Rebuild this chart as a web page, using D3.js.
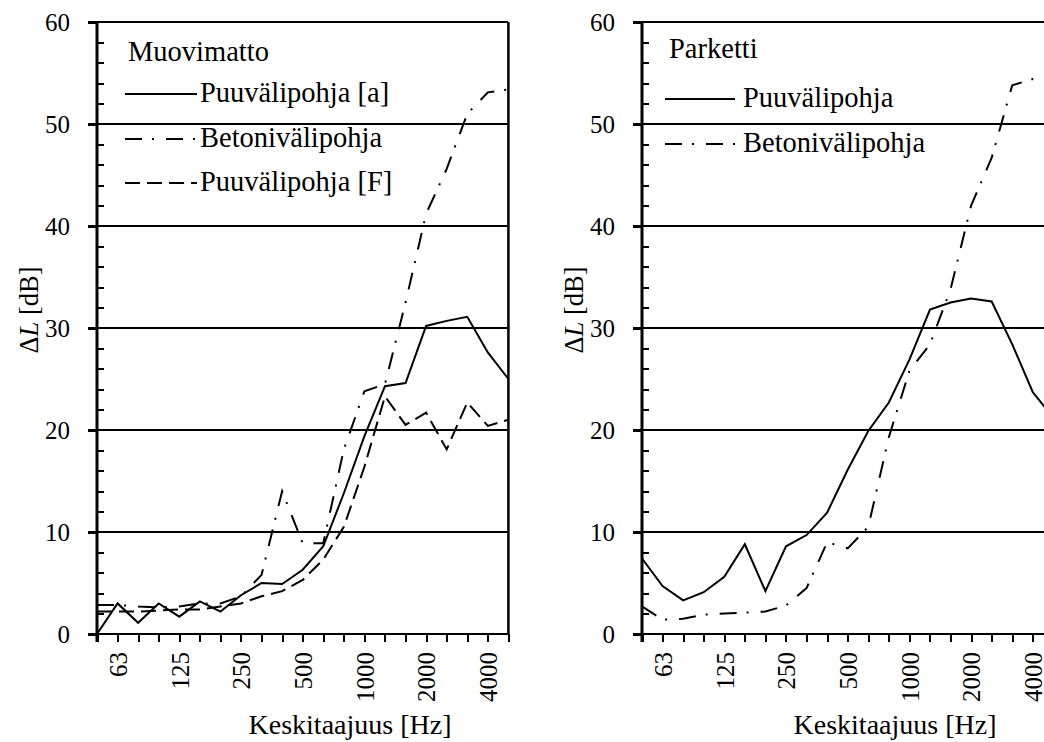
<!DOCTYPE html>
<meta charset="utf-8">
<style>

body {
  margin: 0;
  background: #fff;
}

svg, svg text {
  font-family: "Liberation Serif", "Times New Roman", serif;
}

.axis path, .axis line {
  stroke: #000;
  stroke-width: 2;
  shape-rendering: crispEdges;
}

.axis text {
  fill: #000;
  font-size: 25px;
}

.grid line {
  stroke: #000;
  stroke-width: 2;
  shape-rendering: crispEdges;
}

.series {
  fill: none;
  stroke: #000;
  stroke-width: 2;
}

</style>
<body>
<script src="https://cdn.jsdelivr.net/npm/d3@7"></script>
<script>

// third-octave band centre frequencies, Hz
const bands = [50, 63, 80, 100, 125, 160, 200, 250, 315, 400, 500, 630, 800, 1000, 1250, 1600, 2000, 2500, 3150, 4000, 5000];
const tickLabels = [63, 125, 250, 500, 1000, 2000, 4000];
const yTicks = [0, 10, 20, 30, 40, 50, 60];

// Muovimatto, ΔL in dB
const muoviPuuA    = [0.0, 3.0, 1.1, 3.0, 1.7, 3.2, 2.2, 3.8, 5.0, 4.9, 6.3, 8.6, 13.8, 19.4, 24.3, 24.6, 30.2, 30.7, 31.1, 27.6, 25.0];
const muoviBetoni  = [2.85, 2.85, 2.7, 2.6, 2.7, 3.0, 3.0, 3.7, 5.8, 14.0, 8.9, 8.9, 18.1, 23.8, 24.5, 32.5, 41.2, 45.6, 51.0, 53.1, 53.4];
const muoviPuuF    = [2.2, 2.2, 2.2, 2.3, 2.4, 2.4, 2.7, 3.0, 3.7, 4.2, 5.3, 7.3, 10.5, 16.4, 23.3, 20.5, 21.7, 18.1, 22.7, 20.4, 21.0];

// Parketti, ΔL in dB
const parkettiPuu    = [7.4, 4.7, 3.3, 4.1, 5.6, 8.8, 4.2, 8.6, 9.7, 11.9, 16.1, 19.9, 22.7, 26.9, 31.8, 32.5, 32.9, 32.6, 28.4, 23.7, 21.2];
const parkettiBetoni = [2.7, 1.4, 1.5, 1.9, 2.0, 2.1, 2.2, 2.8, 4.5, 9.0, 8.4, 10.5, 19.3, 25.8, 28.4, 33.8, 42.0, 46.7, 53.8, 54.4, 54.0];

const width = 1044, height = 742;
const plotW = 411.4, plotTop = 22, plotBottom = 634;

const dashes = {solid: null, dashdot: "17,10,2,12", dashed: "15,7"};

const svg = d3.select("body").append("svg")
    .attr("width", width)
    .attr("height", height)
    .attr("font-family", "Liberation Serif, Times New Roman, serif");

function panel(x0, title, series, lg) {
  const g = svg.append("g");

  const x = d3.scalePoint()
      .domain(bands)
      .range([x0, x0 + plotW]);

  const y = d3.scaleLinear()
      .domain([0, 60])
      .range([plotBottom, plotTop]);

  // horizontal grid lines (also the outward major ticks)
  g.append("g")
      .attr("class", "grid")
    .selectAll("line")
    .data(yTicks)
    .join("line")
      .attr("x1", x0 - 9)
      .attr("x2", x0 + plotW)
      .attr("y1", d => y(d))
      .attr("y2", d => y(d));

  // right border
  g.append("line")
      .attr("x1", x0 + plotW).attr("x2", x0 + plotW)
      .attr("y1", plotTop).attr("y2", plotBottom)
      .attr("stroke", "#000")
      .attr("stroke-width", 2.5);

  g.append("g")
      .attr("class", "axis")
      .attr("transform", `translate(${x0},0)`)
      .call(d3.axisLeft(y).tickValues(yTicks).tickSize(9).tickSizeOuter(0).tickPadding(18))
      .attr("font-family", null)
      .call(a => a.select(".domain").remove());

  // minor ticks every 2 dB, pointing inward
  g.append("g")
      .attr("class", "axis")
      .attr("transform", `translate(${x0},0)`)
      .call(d3.axisRight(y).tickValues(d3.range(2, 60, 2).filter(d => d % 10)).tickSize(7).tickFormat(""))
      .call(a => a.select(".domain").remove());

  g.append("g")
      .attr("class", "axis")
      .attr("transform", `translate(0,${plotBottom})`)
      .call(d3.axisBottom(x).tickSize(8).tickSizeOuter(0)
          .tickFormat(d => tickLabels.includes(d) ? d : ""))
      .attr("font-family", null)
      .call(a => a.select(".domain").remove())
      .selectAll("text")
      .attr("transform", "rotate(-90)")
      .attr("text-anchor", "end")
      .attr("x", -18)
      .attr("y", 0)
      .attr("dy", "0.35em");

  g.append("line")
      .attr("x1", x0).attr("x2", x0)
      .attr("y1", plotTop).attr("y2", plotBottom + 8)
      .attr("stroke", "#000")
      .attr("stroke-width", 3);

  const line = d3.line()
      .x((d, i) => x(bands[i]))
      .y(d => y(d));

  g.selectAll(".series")
    .data(series)
    .join("path")
      .attr("class", "series")
      .attr("stroke-dasharray", d => dashes[d.style])
      .attr("d", d => line(d.values));

  // axis titles
  const yl = g.append("text")
      .attr("transform", `translate(${x0 - 59},310) rotate(-90)`)
      .attr("text-anchor", "middle")
      .attr("font-size", 26.5);
  yl.append("tspan").text("Δ");
  yl.append("tspan").attr("font-style", "italic").text("L");
  yl.append("tspan").text(" [dB]");

  g.append("text")
      .attr("x", x0 + 253)
      .attr("y", 734)
      .attr("text-anchor", "middle")
      .attr("font-size", 28)
      .text("Keskitaajuus [Hz]");

  // legend
  g.append("text")
      .attr("x", x0 + lg.titleX)
      .attr("y", lg.titleY)
      .attr("font-size", 28.5)
      .text(title);

  const item = g.selectAll(".legend")
    .data(series)
    .join("g")
      .attr("class", "legend")
      .attr("transform", (d, i) => `translate(${x0 + lg.lineX},${lg.rows[i]})`);

  item.append("line")
      .attr("x2", lg.lineW)
      .attr("stroke", "#000")
      .attr("stroke-width", 2)
      .attr("stroke-dasharray", d => dashes[d.style]);

  item.append("text")
      .attr("x", lg.textX)
      .attr("y", 8)
      .attr("font-size", 28.5)
      .text(d => d.name);
}

panel(97, "Muovimatto", [
  {name: "Puuvälipohja [a]", style: "solid", values: muoviPuuA},
  {name: "Betonivälipohja", style: "dashdot", values: muoviBetoni},
  {name: "Puuvälipohja [F]", style: "dashed", values: muoviPuuF}
], {titleX: 31, titleY: 61, lineX: 28, lineW: 72, textX: 75, rows: [94, 139, 183]});

panel(642, "Parketti", [
  {name: "Puuvälipohja", style: "solid", values: parkettiPuu},
  {name: "Betonivälipohja", style: "dashdot", values: parkettiBetoni}
], {titleX: 27, titleY: 58, lineX: 23, lineW: 70, textX: 78, rows: [99, 144]});

</script>
